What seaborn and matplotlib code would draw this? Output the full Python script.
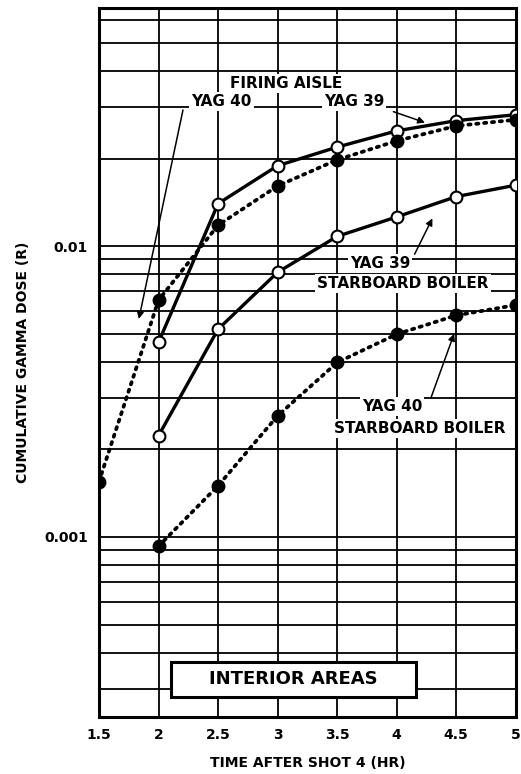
import matplotlib
matplotlib.use("Agg")
import matplotlib.pyplot as plt
from matplotlib.patches import Rectangle
import seaborn as sns
import pandas as pd

# ---- data ----
time_hr = [1.5, 2.0, 2.5, 3.0, 3.5, 4.0, 4.5, 5.0]
yag39_firing_aisle = [None, 0.00467, 0.0140, 0.0189, 0.0219, 0.0249, 0.0270, 0.0283]
yag40_firing_aisle = [0.00155, 0.00652, 0.0118, 0.0161, 0.0198, 0.0230, 0.0259, 0.0272]
yag39_starboard_boiler = [None, 0.00223, 0.00518, 0.00813, 0.0108, 0.0126, 0.0148, 0.0162]
yag40_starboard_boiler = [None, 0.00093, 0.00150, 0.00261, 0.00398, 0.00498, 0.00578, 0.00627]

x_ticks = [1.5, 2, 2.5, 3, 3.5, 4, 4.5, 5]
x_tick_labels = ["1.5", "2", "2.5", "3", "3.5", "4", "4.5", "5"]
y_ticks = [0.001, 0.01]
y_tick_labels = ["0.001", "0.01"]

sns.set_theme(style="white")
plt.rcParams["font.family"] = ["DejaVu Sans"]
plt.rcParams["font.weight"] = "bold"
for k in ["text.color", "axes.labelcolor", "xtick.color", "ytick.color"]:
    plt.rcParams[k] = "black"

fig = plt.figure(figsize=(5.21, 7.74), dpi=100)
ax = fig.add_axes([0.19, 0.074, 0.80, 0.916])

series = [
    (yag39_firing_aisle, "solid", "white"),
    (yag40_firing_aisle, "dotted", "black"),
    (yag39_starboard_boiler, "solid", "white"),
    (yag40_starboard_boiler, "dotted", "black"),
]
for vals, ls, face in series:
    df = pd.DataFrame({"t": time_hr, "v": vals}).dropna()
    sns.lineplot(data=df, x="t", y="v", ax=ax, color="black",
                 linewidth=2.4 if ls == "solid" else 2.7,
                 marker="o", markersize=8.5, markerfacecolor=face,
                 markeredgecolor="black", markeredgewidth=1.5, zorder=5)
    if ls == "dotted":
        ax.lines[-1].set_linestyle((0, (0.6, 1.5)))
        ax.lines[-1].set_dash_capstyle("round")

ax.set_yscale("log")
ax.set_xlim(1.5, 5.0)
ax.set_ylim(0.000241, 0.066)

ax.set_xticks(x_ticks)
ax.set_xticklabels(x_tick_labels, fontsize=10, fontweight="bold")
ax.set_yticks(y_ticks)
ax.set_yticklabels(y_tick_labels, fontsize=10, fontweight="bold")
ax.yaxis.set_minor_formatter(matplotlib.ticker.NullFormatter())
ax.grid(True, which="major", axis="both", color="black", linewidth=1.3)
ax.grid(True, which="minor", axis="y", color="black", linewidth=1.3)
ax.tick_params(axis="both", which="both", length=0, pad=8)
for s in ax.spines.values():
    s.set_color("black")
    s.set_linewidth(2.2)

ax.set_xlabel("TIME AFTER SHOT 4 (HR)", fontsize=10, fontweight="bold", labelpad=10)
ax.set_ylabel("CUMULATIVE GAMMA DOSE (R)", fontsize=10, fontweight="bold", labelpad=10)

tkw = dict(fontsize=11, fontweight="bold", ha="center", va="center", zorder=6,
           bbox=dict(facecolor="white", edgecolor="none", pad=1.5))
ax.text(3.07, 0.0362, "FIRING AISLE", **tkw)
ax.text(2.53, 0.0314, "YAG 40", **tkw)
ax.text(3.64, 0.0314, "YAG 39", **tkw)
ax.text(3.86, 0.00873, "YAG 39", **tkw)
ax.text(4.05, 0.00745, "STARBOARD BOILER", **tkw)
ax.text(3.96, 0.00281, "YAG 40", **tkw)
ax.text(4.19, 0.00236, "STARBOARD BOILER", **tkw)

ax.add_patch(Rectangle((2.105, 0.000281), 4.16 - 2.105, 0.000373 - 0.000281,
                       facecolor="white", edgecolor="black", linewidth=2.2, zorder=6))
ax.text(3.13, 0.000324, "INTERIOR AREAS", fontsize=13, fontweight="bold",
        ha="center", va="center", zorder=7)

akw = dict(arrowstyle="-|>", color="black", lw=1.1, mutation_scale=10)
ax.annotate("", xy=(1.83, 0.0055), xytext=(2.21, 0.0300), arrowprops=akw, zorder=6)
ax.annotate("", xy=(4.26, 0.0264), xytext=(3.95, 0.0292), arrowprops=akw, zorder=6)
ax.annotate("", xy=(4.31, 0.0127), xytext=(4.14, 0.0092), arrowprops=akw, zorder=6)
ax.annotate("", xy=(4.49, 0.0051), xytext=(4.28, 0.00295), arrowprops=akw, zorder=6)

fig.savefig("out.png", dpi=100)
